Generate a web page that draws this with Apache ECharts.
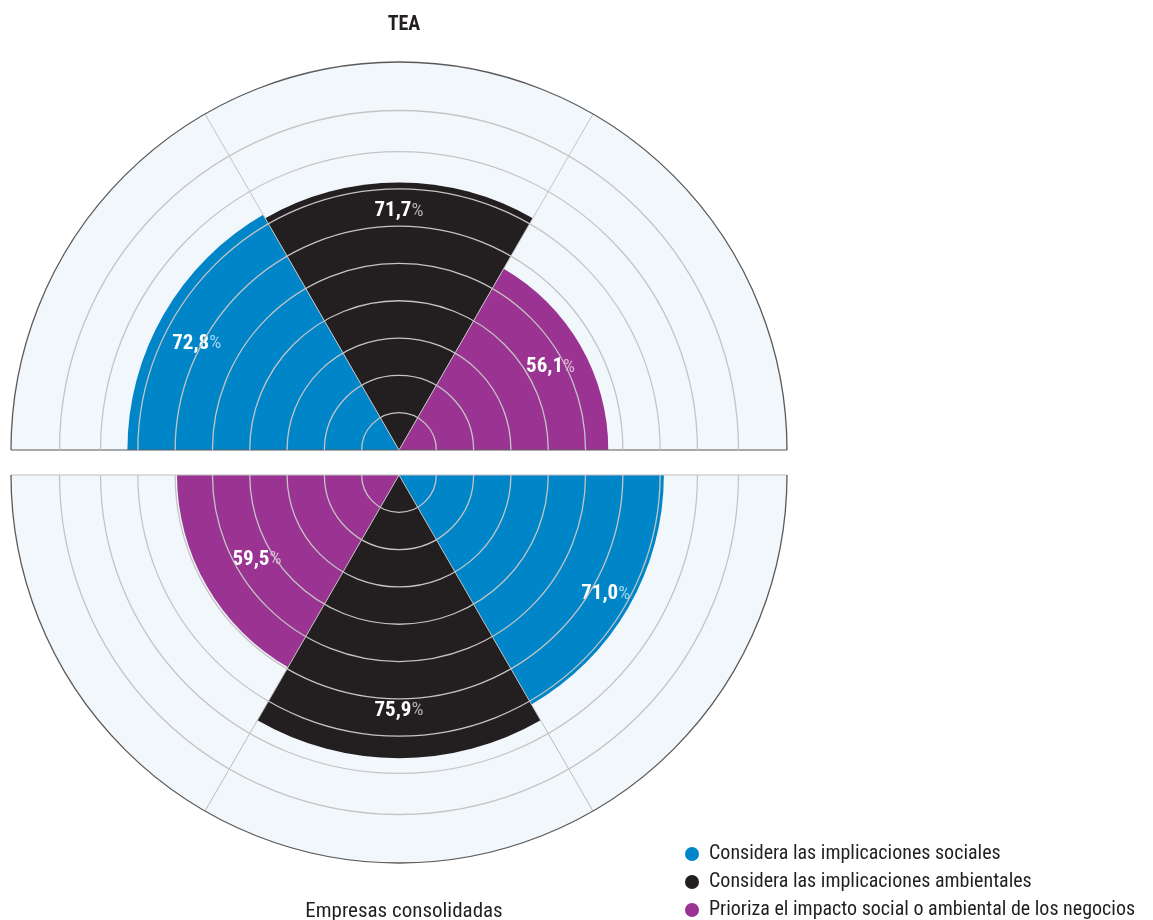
<!DOCTYPE html>
<html>
<head>
<meta charset="utf-8">
<script src="https://cdn.jsdelivr.net/npm/echarts@6/dist/echarts.min.js"></script>
<style>
html,body{margin:0;padding:0;background:#fff;}
#chart{width:1153px;height:920px;}
</style>
</head>
<body>
<div id="chart"></div>
<script>
// ---- data ----
const categories = [
  'Considera las implicaciones sociales',
  'Considera las implicaciones ambientales',
  'Prioriza el impacto social o ambiental de los negocios'
];
const teaValues = [72.8, 71.7, 56.1];          // TEA
const consolidadasValues = [71.0, 75.9, 59.5]; // Empresas consolidadas
const ringTicks = [10, 20, 30, 40, 50, 60, 70, 80, 91];
const panelTitles = ['TEA', 'Empresas consolidadas'];

// ---- styles ----
const colors = ['#0086c8', '#231f20', '#9a3391'];
const FONT = "'Roboto Condensed', 'Liberation Sans Narrow', Lato, sans-serif";
const RADIUS_MAX = 104;

function fmt(v) { return v.toFixed(1).replace('.', ','); }

// label placement (style)
const topDist = [38, 18, 32];
const botDist = [32, 58, 58];
const topOffset = [[0, 0], [0, 0], [-2, -5]];
const botOffset = [[5, -8], [0, 0], [0, -8]];

function labelOpt(dist, off) {
  return {
    show: true, position: 'insideEnd', distance: dist, rotate: 0, offset: off,
    formatter: p => '{v|' + fmt(p.value) + '}{p|%}',
    rich: {
      v: { color: '#fff', fontSize: 21, fontWeight: 'bold', fontFamily: FONT },
      p: { color: 'rgba(255,255,255,0.65)', fontSize: 19, fontFamily: FONT }
    }
  };
}

const series = [];
[teaValues, consolidadasValues].forEach((vals, pIdx) => {
  categories.forEach((name, i) => {
    const d = categories.map((c, j) => j === i ? vals[i] : '-');
    series.push({
      type: 'bar', name: name, coordinateSystem: 'polar', polarIndex: pIdx,
      data: d, barGap: '-100%', barCategoryGap: '0%',
      itemStyle: { color: colors[i] },
      showBackground: true,
      backgroundStyle: { color: '#f2f7fc' },
      label: pIdx === 0 ? labelOpt(topDist[i], topOffset[i]) : labelOpt(botDist[i], botOffset[i]),
      z: 2
    });
  });
});

function angleAxis(idx, start, end, lineColors) {
  return {
    polarIndex: idx, type: 'category', data: categories,
    startAngle: start, endAngle: end, boundaryGap: true,
    axisLabel: { show: false }, axisTick: { show: false },
    axisLine: { show: true, lineStyle: { color: '#5a5a5a', width: 1.3 } },
    splitLine: { show: true, lineStyle: { color: lineColors, width: 1 } },
    splitArea: { show: false },
    z: 5
  };
}
function radiusAxis(idx) {
  return {
    polarIndex: idx, type: 'value', min: 0, max: RADIUS_MAX,
    axisLine: { show: false }, axisLabel: { show: false },
    axisTick: { show: false, customValues: ringTicks },
    splitLine: { show: true, lineStyle: { color: '#c4c4c4', width: 1.3 } },
    z: 10
  };
}

const option = {
  backgroundColor: '#ffffff',
  animation: false,
  title: [
    { text: panelTitles[0], left: 399, top: 10, textAlign: 'center',
      textStyle: { fontFamily: FONT, fontSize: 20, fontWeight: 'bold', color: '#231f20' } },
    { text: panelTitles[1], left: 399, top: 896, textAlign: 'center',
      textStyle: { fontFamily: FONT, fontSize: 21, fontWeight: 'normal', color: '#231f20' } }
  ],
  legend: {
    data: categories, orient: 'vertical', left: 685, top: 844, padding: 0,
    icon: 'circle', itemWidth: 14, itemHeight: 14, itemGap: 8,
    textStyle: { fontFamily: FONT, fontSize: 20, lineHeight: 20, color: '#231f20', padding: [0, 0, 0, 5] },
    selectedMode: false
  },
  color: colors,
  polar: [
    { center: [399, 450], radius: [0, 388] },
    { center: [399, 475], radius: [0, 388] }
  ],
  angleAxis: [
    angleAxis(0, 180, 0, ['#5a5a5a', '#c4c4c4', '#c4c4c4', '#5a5a5a']),
    angleAxis(1, 0, -180, ['#bdbdbd'])
  ],
  radiusAxis: [radiusAxis(0), radiusAxis(1)],
  series: series
};

const chart = echarts.init(document.getElementById('chart'), null, { renderer: 'canvas' });
chart.setOption(option);
</script>
</body>
</html>
